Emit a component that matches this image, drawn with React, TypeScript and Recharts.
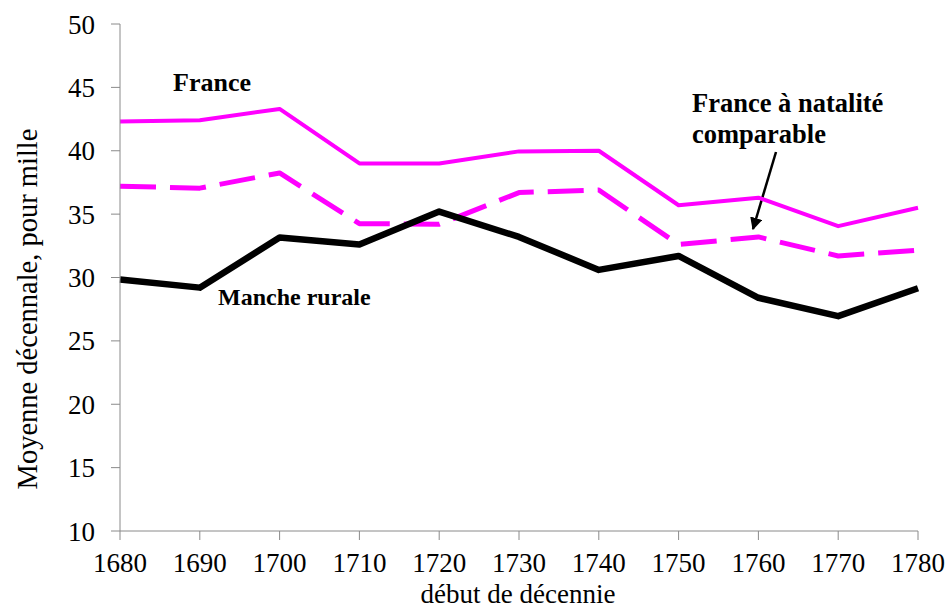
import React from 'react';
import { LineChart, Line, XAxis, YAxis, Customized } from 'recharts';

const years = [1680, 1690, 1700, 1710, 1720, 1730, 1740, 1750, 1760, 1770, 1780];
const france = [42.3, 42.4, 43.3, 39.0, 39.0, 39.95, 40.0, 35.7, 36.3, 34.05, 35.5];
const comparable = [37.2, 37.05, 38.25, 34.25, 34.2, 36.7, 36.9, 32.6, 33.2, 31.7, 32.15];
const manche = [29.85, 29.2, 33.15, 32.6, 35.2, 33.2, 30.6, 31.7, 28.4, 26.95, 29.15];
const yTicks = [10, 15, 20, 25, 30, 35, 40, 45, 50];

const data = years.map((y, i) => ({
  year: y,
  france: france[i],
  comparable: comparable[i],
  manche: manche[i],
}));

const FONT = '"Liberation Serif", "Times New Roman", serif';
const AXIS = '#8a8a8a';
const MAGENTA = '#ff00ff';

const Annotations = () => (
  <g fontFamily={FONT}>
    <defs>
      <marker id="arrowHead" viewBox="0 0 10 10" refX="9" refY="5" markerWidth="5" markerHeight="5" orient="auto">
        <path d="M0,0 L10,5 L0,10 z" fill="#000" />
      </marker>
    </defs>
    <text x={173} y={91} fontSize={26} fontWeight="bold" fill="#000">France</text>
    <text x={218} y={305} fontSize={24} fontWeight="bold" fill="#000">Manche rurale</text>
    <text x={692} y={112} fontSize={26.5} fontWeight="bold" fill="#000">France à natalité</text>
    <text x={692} y={143} fontSize={26.5} fontWeight="bold" fill="#000">comparable</text>
    <line x1={776} y1={152} x2={753} y2={229} stroke="#000" strokeWidth={2.5} markerEnd="url(#arrowHead)" />
    <text x={37} y={309} fontSize={28.5} fill="#000" textAnchor="middle" transform="rotate(-90 37 309)">
      Moyenne décennale, pour mille
    </text>
    <text x={518} y={603} fontSize={27} fill="#000" textAnchor="middle">début de décennie</text>
  </g>
);

export default function App() {
  return (
    <div style={{ position: 'absolute', left: 0, top: 0, width: 946, height: 614, background: '#fff' }}>
      <LineChart
        width={946}
        height={614}
        data={data}
        margin={{ top: 24, right: 28, bottom: 0, left: 0 }}
        style={{ fontFamily: FONT }}
      >
        <XAxis
          dataKey="year"
          type="number"
          domain={[1680, 1780]}
          ticks={years}
          height={83}
          stroke={AXIS}
          tickSize={9}
          tickMargin={13}
          tick={{ fill: '#000', fontSize: 27, fontFamily: FONT }}
          tickLine={{ stroke: AXIS }}
          interval={0}
        />
        <YAxis
          type="number"
          domain={[10, 50]}
          ticks={yTicks}
          width={120}
          stroke={AXIS}
          tickSize={9}
          tickMargin={16}
          tick={{ fill: '#000', fontSize: 27, fontFamily: FONT }}
          tickLine={{ stroke: AXIS }}
          interval={0}
        />
        <Line
          dataKey="france"
          stroke={MAGENTA}
          strokeWidth={4}
          dot={false}
          isAnimationActive={false}
          strokeLinejoin="round"
        />
        <Line
          dataKey="comparable"
          stroke={MAGENTA}
          strokeWidth={5}
          strokeDasharray="36 14"
          dot={false}
          isAnimationActive={false}
          strokeLinejoin="round"
        />
        <Line
          dataKey="manche"
          stroke="#000"
          strokeWidth={6.5}
          dot={false}
          isAnimationActive={false}
          strokeLinejoin="round"
        />
        <Customized component={Annotations} />
      </LineChart>
    </div>
  );
}
